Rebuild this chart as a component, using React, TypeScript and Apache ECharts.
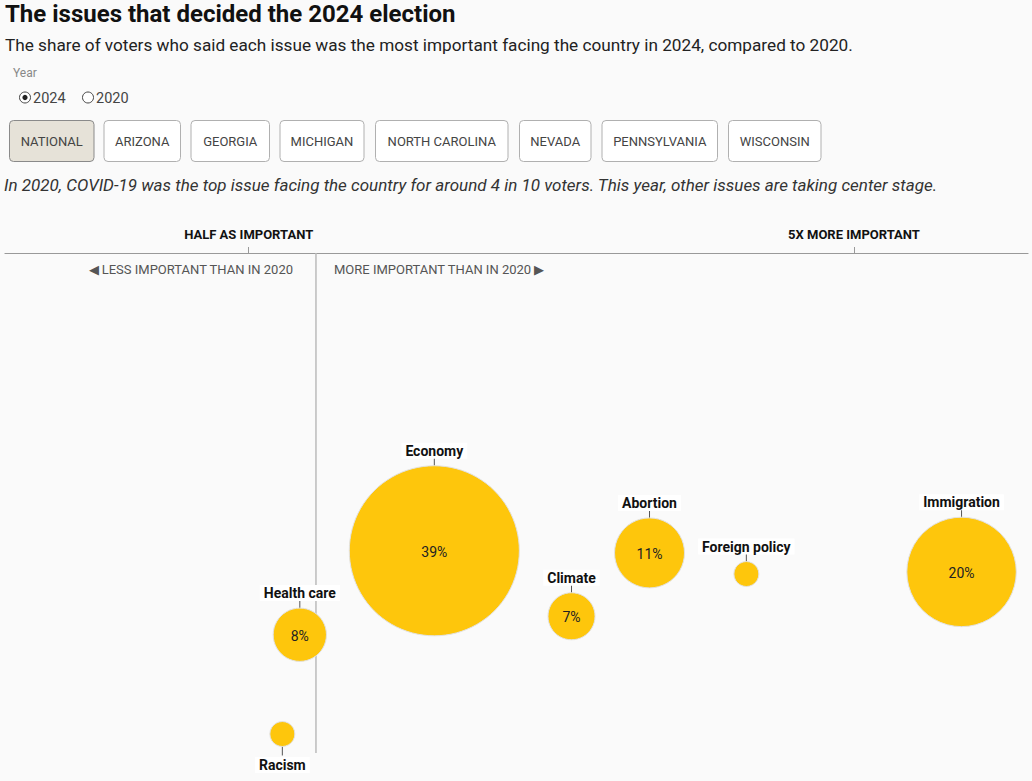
import React, { useEffect, useRef } from "react";
import * as echarts from "echarts";

// ---- data ----
const issues = ["Economy", "Immigration", "Abortion", "Foreign policy", "Climate", "Health care", "Racism"];
const share2024 = [39, 20, 11, 4, 7, 8, 4];
// 2024 share relative to 2020 share (1 = as important as in 2020)
const changeRatio = [1.88, 5.8, 3.48, 4.2, 2.9, 0.88, 0.75];
// vertical (beeswarm) layout position, 0 = top of plot, 100 = bottom
const yPosition = [56.4, 60.4, 56.8, 60.8, 68.8, 72.3, 91.1];

const axisMarks = [0.5, 5];
const axisMarkLabels = ["HALF AS IMPORTANT", "5X MORE IMPORTANT"];
const referenceRatio = 1;
const referenceLineEnd = 94.7;

const regions = ["NATIONAL", "ARIZONA", "GEORGIA", "MICHIGAN", "NORTH CAROLINA", "NEVADA", "PENNSYLVANIA", "WISCONSIN"];
const selectedRegion = "NATIONAL";
const years = ["2024", "2020"];
const selectedYear = "2024";

const labelBelow = new Set(["Racism"]);

// ---- layout / style ----
const FONT = "Roboto, 'Noto Sans', sans-serif";
const BG = "#fafafa";
const YELLOW = "#fec60c";
const buttonBoxes: [number, number][] = [
  [9.5, 94], [104, 180.5], [191, 269.5], [280, 364], [375.5, 508], [519.5, 591], [602, 717.5], [728.5, 821],
];
const radioX = [25, 88];

const radius = (v: number) => 17.09 * Math.sqrt(v) - 21.7;

function buildGraphic() {
  const els: any[] = [];
  const txt = (text: string, x: number, y: number, font: string, fill: string, align = "left") => ({
    type: "text",
    silent: true,
    style: {
      text, x, y, font, fill,
      align, textAlign: align, verticalAlign: "middle", textVerticalAlign: "middle",
    },
  });
  els.push(txt("The issues that decided the 2024 election", 5, 14, `bold 24px ${FONT}`, "#111"));
  els.push(
    txt(
      "The share of voters who said each issue was the most important facing the country in 2024, compared to 2020.",
      5, 45, `17.2px ${FONT}`, "#222"
    )
  );
  els.push(txt("Year", 13, 73, `12px ${FONT}`, "#888"));
  years.forEach((y, i) => {
    els.push({
      type: "circle",
      silent: true,
      shape: { cx: radioX[i], cy: 97.5, r: 5.5 },
      style: { fill: "#fff", stroke: "#444", lineWidth: 1 },
    });
    if (y === selectedYear) {
      els.push({
        type: "circle",
        silent: true,
        shape: { cx: radioX[i], cy: 97.5, r: 2.6 },
        style: { fill: "#222" },
      });
    }
    els.push(txt(y, radioX[i] + 8, 98, `14.5px ${FONT}`, "#444"));
  });
  regions.forEach((r, i) => {
    const [x0, x1] = buttonBoxes[i];
    const sel = r === selectedRegion;
    els.push({
      type: "rect",
      silent: true,
      shape: { x: x0, y: 120.5, width: x1 - x0, height: 41, r: 4 },
      style: { fill: sel ? "#e6e2d8" : "#ffffff", stroke: sel ? "#8a8a8a" : "#b0b0b0", lineWidth: 1 },
    });
    els.push(txt(r, (x0 + x1) / 2, 141, `13px ${FONT}`, "#444", "center"));
  });
  els.push(
    txt(
      "In 2020, COVID-19 was the top issue facing the country for around 4 in 10 voters. This year, other issues are taking center stage.",
      4, 185, `italic 17px ${FONT}`, "#333"
    )
  );
  els.push(txt("◀ LESS IMPORTANT THAN IN 2020", 293, 269, `13px ${FONT}`, "#555", "right"));
  els.push(txt("MORE IMPORTANT THAN IN 2020 ▶", 334, 269, `13px ${FONT}`, "#555", "left"));
  return els;
}

const bubbleData = issues.map((name, i) => [changeRatio[i], yPosition[i], share2024[i], i]);

function renderBubble(params: any, api: any) {
  const idx = api.value(3);
  const name = issues[idx];
  const share = api.value(2);
  const [cx, cy] = api.coord([api.value(0), api.value(1)]);
  const r = radius(share);
  const below = labelBelow.has(name);
  const edge = below ? cy + r : cy - r;
  const dir = below ? 1 : -1;
  const children: any[] = [
    {
      type: "line",
      shape: { x1: cx, y1: edge, x2: cx, y2: edge + dir * 9 },
      style: { stroke: "#555", lineWidth: 1 },
    },
    {
      type: "circle",
      shape: { cx, cy, r },
      style: { fill: YELLOW, stroke: "#e2e2e2", lineWidth: 1 },
    },
    {
      type: "text",
      style: {
        text: name,
        x: cx,
        y: edge + (below ? 18.5 : -15),
        font: `bold 14px ${FONT}`,
        fill: "#111",
        align: "center",
        textAlign: "center",
        verticalAlign: "middle",
        textVerticalAlign: "middle",
        backgroundColor: "#ffffff",
        padding: [1, 4],
      },
    },
  ];
  if (share >= 7) {
    children.push({
      type: "text",
      style: {
        text: `${share}%`,
        x: cx,
        y: cy + 1,
        font: `14px ${FONT}`,
        fill: "#222",
        align: "center",
        textAlign: "center",
        verticalAlign: "middle",
        textVerticalAlign: "middle",
      },
    });
  }
  return { type: "group", children };
}

export default function App() {
  const ref = useRef<HTMLDivElement>(null);
  useEffect(() => {
    const chart = echarts.init(ref.current as HTMLDivElement, null, { renderer: "svg" });
    chart.setOption({
      animation: false,
      backgroundColor: BG,
      textStyle: { fontFamily: FONT },
      graphic: { elements: buildGraphic() },
      grid: { left: 5, right: 4, top: 253, bottom: 0 },
      xAxis: {
        type: "value",
        position: "top",
        min: -1.312,
        max: 6.294,
        axisLine: { show: true, lineStyle: { color: "#999", width: 1.2 } },
        axisTick: { show: true, length: 6, inside: false, customValues: axisMarks, lineStyle: { color: "#999" } },
        axisLabel: {
          show: true,
          customValues: axisMarks,
          margin: 12,
          fontFamily: FONT,
          fontSize: 13,
          fontWeight: "bold",
          color: "#111",
          formatter: (v: number) => {
            const k = axisMarks.indexOf(v);
            return k >= 0 ? axisMarkLabels[k] : "";
          },
        },
        splitLine: { show: false },
      },
      yAxis: {
        type: "value",
        min: 0,
        max: 100,
        inverse: true,
        show: false,
      },
      series: [
        {
          type: "line",
          silent: true,
          symbol: "none",
          data: [
            [referenceRatio, 0],
            [referenceRatio, referenceLineEnd],
          ],
          lineStyle: { color: "#bbb", width: 1.5 },
          z: 1,
        },
        {
          type: "custom",
          silent: true,
          renderItem: renderBubble,
          data: bubbleData,
          z: 5,
        },
      ],
    });
    return () => chart.dispose();
  }, []);
  return (
    <div
      ref={ref}
      style={{ position: "absolute", left: 0, top: 0, width: 1032, height: 781 }}
    />
  );
}
